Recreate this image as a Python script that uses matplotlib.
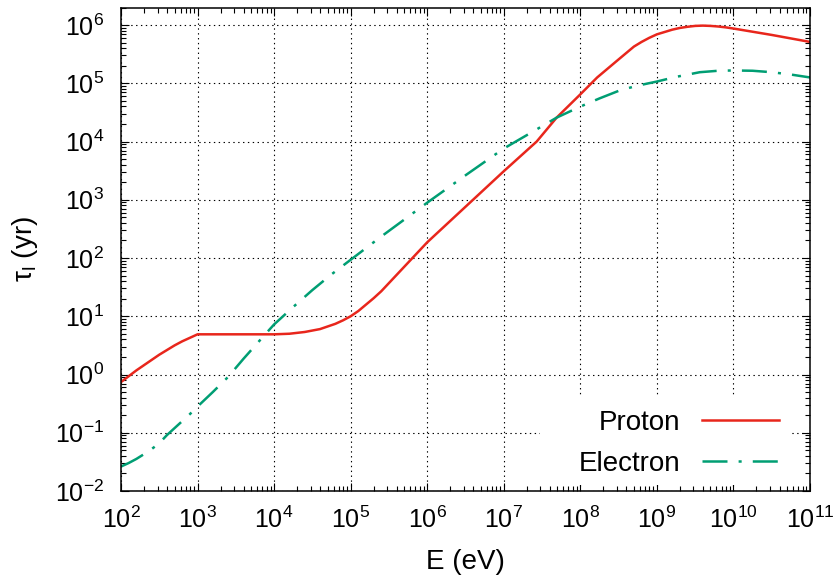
import numpy as np
import matplotlib
matplotlib.use("Agg")
import matplotlib.pyplot as plt
from matplotlib.patches import Rectangle
from matplotlib.ticker import LogLocator, FixedLocator, FixedFormatter, NullFormatter

plt.rcParams['font.family'] = ['Liberation Sans', 'DejaVu Sans']
plt.rcParams['mathtext.fontset'] = 'custom'
plt.rcParams['mathtext.rm'] = 'Liberation Sans'
plt.rcParams['mathtext.it'] = 'Liberation Sans'
plt.rcParams['mathtext.default'] = 'regular'
plt.rcParams['lines.scale_dashes'] = False

# ---- data (log10 values) ----
proton_logE = [2.0, 2.1, 2.2, 2.3, 2.4, 2.5, 2.6, 2.7, 2.8, 2.9, 3.0, 3.5, 4.0,
               4.2, 4.4, 4.6, 4.8, 4.9, 5.0, 5.1, 5.2, 5.3, 5.4, 5.5, 5.6, 5.7,
               5.8, 6.0, 6.5, 7.0, 7.43, 7.69, 8.0, 8.22, 8.5, 8.7, 8.8, 8.9,
               9.0, 9.1, 9.2, 9.3, 9.4, 9.5, 9.6, 9.7, 9.8, 9.9, 10.0, 10.5, 11.0]
proton_logtau = [-0.13, -0.03, 0.07, 0.16, 0.25, 0.34, 0.42, 0.50, 0.57, 0.63,
                 0.69, 0.69, 0.69, 0.70, 0.73, 0.78, 0.87, 0.93, 1.00, 1.09, 1.20,
                 1.31, 1.43, 1.57, 1.71, 1.85, 1.99, 2.27, 2.88, 3.49, 4.00, 4.41,
                 4.81, 5.10, 5.41, 5.63, 5.71, 5.78, 5.84, 5.88, 5.92, 5.95, 5.97,
                 5.985, 5.99, 5.985, 5.975, 5.96, 5.94, 5.83, 5.71]

electron_logE = [2.0, 2.1, 2.2, 2.31, 2.4, 2.5, 2.6, 2.7, 2.8, 2.9, 3.0, 3.2, 3.4,
                 3.6, 3.85, 4.0, 4.25, 4.5, 4.75, 5.0, 5.38, 6.0, 6.5, 7.0, 7.38,
                 7.69, 8.0, 8.25, 8.52, 8.75, 9.0, 9.25, 9.56, 9.8, 10.0, 10.25,
                 10.5, 10.75, 11.0]
electron_logtau = [-1.58, -1.52, -1.45, -1.36, -1.28, -1.18, -1.04, -0.92, -0.80,
                   -0.68, -0.55, -0.30, -0.04, 0.27, 0.64, 0.86, 1.16, 1.45, 1.72,
                   1.97, 2.35, 2.95, 3.42, 3.88, 4.17, 4.41, 4.60, 4.74, 4.88, 4.96,
                   5.03, 5.11, 5.19, 5.215, 5.22, 5.215, 5.19, 5.15, 5.10]

xtick_exps = list(range(2, 12))
ytick_exps = list(range(-2, 7))

proton_E = 10.0 ** np.array(proton_logE)
proton_tau = 10.0 ** np.array(proton_logtau)
electron_E = 10.0 ** np.array(electron_logE)
electron_tau = 10.0 ** np.array(electron_logtau)

fig = plt.figure(figsize=(8.38, 5.78), dpi=100)
ax = fig.add_axes([121 / 838, 1 - 491 / 578, (810 - 121) / 838, (491 - 7.5) / 578])

red = '#e8261c'
green = '#009e73'
ax.plot(proton_E, proton_tau, color=red, lw=1.8, label='Proton', zorder=3,
        solid_joinstyle='round')
ax.plot(electron_E, electron_tau, color=green, lw=1.8, label='Electron',
        dashes=(18, 8, 2.2, 8), dash_capstyle='butt', zorder=3)

ax.set_xscale('log')
ax.set_yscale('log')
ax.set_xlim(1e2, 1e11)
ax.set_ylim(1e-2, 2e6)

ax.xaxis.set_major_locator(FixedLocator([10.0 ** e for e in xtick_exps]))
ax.xaxis.set_major_formatter(FixedFormatter([r'$10^{%d}$' % e for e in xtick_exps]))
ax.yaxis.set_major_locator(FixedLocator([10.0 ** e for e in ytick_exps]))
ax.yaxis.set_major_formatter(FixedFormatter([r'$10^{%d}$' % e for e in ytick_exps]))
ax.xaxis.set_minor_locator(LogLocator(base=10, subs=np.arange(2, 10), numticks=50))
ax.yaxis.set_minor_locator(LogLocator(base=10, subs=np.arange(2, 10), numticks=50))
ax.xaxis.set_minor_formatter(NullFormatter())
ax.yaxis.set_minor_formatter(NullFormatter())

ax.tick_params(which='both', direction='in', top=True, right=True, width=0.8,
               colors='black', labelsize=18)
ax.tick_params(which='major', length=6)
ax.tick_params(which='minor', length=3.5)
ax.tick_params(axis='x', which='major', pad=11)
ax.tick_params(axis='y', which='major', pad=12)

for s in ax.spines.values():
    s.set_linewidth(1.1)
    s.set_color('black')
    s.set_zorder(4)

ax.grid(True, which='major', color='black', linestyle=(0, (1, 2.5)), linewidth=0.8)
ax.set_axisbelow(True)

# white key background (as in the reference), kept clear of the frame
ax.add_patch(Rectangle((0.608, 0.012), 0.97 - 0.608, 0.1986 - 0.012,
                       transform=ax.transAxes, facecolor='white',
                       edgecolor='none', zorder=1))

ax.set_xlabel('E (eV)', fontsize=20, labelpad=12)
ax.set_ylabel(r'$\tau_{l}$ (yr)', fontsize=20, labelpad=11)

leg = ax.legend(loc='lower right', bbox_to_anchor=(0.9705, 0.0068), fontsize=20,
                frameon=False, markerfirst=False, handlelength=2.75,
                handletextpad=0.8, labelspacing=0.53, borderaxespad=0.0,
                borderpad=0.4)
leg.set_zorder(5)

fig.savefig('out.png', dpi=100)
